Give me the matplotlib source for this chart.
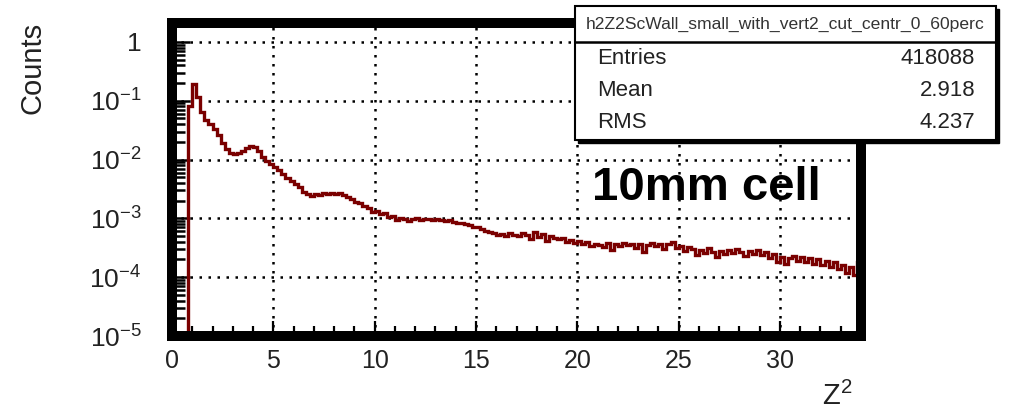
import numpy as np
import matplotlib
matplotlib.use("Agg")
import matplotlib.pyplot as plt
from matplotlib.patches import Rectangle
from matplotlib.lines import Line2D
from matplotlib.ticker import FixedLocator, LogLocator, MultipleLocator, NullFormatter

# ---------------- data ----------------
bin_width = 0.2
x_min, x_max = 0.0, 34.0
counts = [
    0, 0, 0, 0, 0.08, 0.19, 0.115, 0.065, 0.048, 0.040,          # 0.0 - 1.8
    0.033, 0.026, 0.019, 0.015, 0.013, 0.0125, 0.013, 0.014, 0.016, 0.017,  # 2.0 - 3.8
    0.0165, 0.014, 0.011, 0.0095, 0.0085, 0.0075, 0.0066, 0.0057, 0.0049, 0.0043,  # 4.0 - 5.8
    0.0038, 0.0034, 0.0028, 0.0026, 0.0024, 0.0026, 0.0025, 0.0027, 0.0026, 0.0027,  # 6.0 - 7.8
    0.0026, 0.0027, 0.0025, 0.0023, 0.0021, 0.0019, 0.0018, 0.0016, 0.0015, 0.0013,  # 8.0 - 9.8
    0.00135, 0.0012, 0.00125, 0.00105, 0.0011, 0.00095, 0.0010,                      # 10.0 - 11.2
    0.00098, 0.00092, 0.00097, 0.00101, 0.00094, 0.00099, 0.00096, 0.00093, 0.00098, 0.00095,  # 11.4 - 13.2
    0.00091, 0.00094, 0.00088, 0.00085, 0.00083, 0.00079, 0.00076, 0.00072, 0.00070, 0.00066,  # 13.4 - 15.2
    0.00062, 0.00059, 0.00057, 0.00053, 0.00055, 0.00051, 0.00056, 0.00052, 0.00050, 0.00057,  # 15.4 - 17.2
    0.00053, 0.00045, 0.00058, 0.00049, 0.00054, 0.00042, 0.00051, 0.00047, 0.00044, 0.00046,  # 17.4 - 19.2
    0.00040, 0.00043, 0.00038, 0.00041, 0.00036, 0.00039, 0.00034, 0.00037, 0.00035, 0.00033,  # 19.4 - 21.2
    0.00038, 0.00029, 0.00036, 0.00034, 0.00038, 0.00035, 0.00037, 0.00031, 0.00036, 0.00027,  # 21.4 - 23.2
    0.00035, 0.00038, 0.00034, 0.00037, 0.00030, 0.00036, 0.00039, 0.00031, 0.00034, 0.00028,  # 23.4 - 25.2
    0.00033, 0.00030, 0.00024, 0.00029, 0.00026, 0.00031, 0.00027, 0.00022, 0.00028, 0.00025,  # 25.4 - 27.2
    0.00029, 0.00026, 0.00030, 0.00027, 0.00023, 0.00028, 0.00025, 0.00029, 0.00024, 0.00027,  # 27.4 - 29.2
    0.00021, 0.00025, 0.00018, 0.00022, 0.00017, 0.00021, 0.00023, 0.00019, 0.00022, 0.00018,  # 29.4 - 31.2
    0.00021, 0.00017, 0.00020, 0.00016, 0.00019, 0.00015, 0.00018, 0.00014, 0.00016, 0.00012,  # 31.4 - 33.2
    0.00015, 0.00011, 0.00018,                                                                  # 33.4 - 33.8
]
y_min, y_max = 1e-5, 2.1
x_ticks = [0, 5, 10, 15, 20, 25, 30]
x_tick_labels = ["0", "5", "10", "15", "20", "25", "30"]
y_ticks = [1e-5, 1e-4, 1e-3, 1e-2, 1e-1, 1]
y_tick_labels = [r"$10^{-5}$", r"$10^{-4}$", r"$10^{-3}$", r"$10^{-2}$", r"$10^{-1}$", "1"]
hist_name = "h2Z2ScWall_small_with_vert2_cut_centr_0_60perc"
stats_names = ["Entries", "Mean", "RMS"]
stats_values = ["418088", "2.918", "4.237"]
annotation = "10mm cell"
x_label = r"Z$^{2}$"
y_label = "Counts"

# ---------------- style ----------------
plt.rcParams["font.family"] = ["Liberation Sans", "DejaVu Sans"]
plt.rcParams["mathtext.fontset"] = "custom"
plt.rcParams["mathtext.rm"] = "Liberation Sans"
plt.rcParams["mathtext.it"] = "Liberation Sans:italic"
plt.rcParams["mathtext.bf"] = "Liberation Sans:bold"
plt.rcParams["mathtext.default"] = "regular"

W, H = 1013, 411
fig = plt.figure(figsize=(W / 100, H / 100), dpi=100)

def fx(px):
    return px / W

def fy(py):
    return 1 - py / H

ax_l, ax_r, ax_t, ax_b = 172, 861, 23, 336
ax = fig.add_axes([fx(ax_l), fy(ax_b), fx(ax_r - ax_l), (ax_b - ax_t) / H])

edges = np.linspace(x_min, x_max, len(counts) + 1)
vals = np.maximum(np.array(counts, dtype=float), y_min)
ax.stairs(vals, edges, baseline=None, color="#7a0000", linewidth=2.4, zorder=3)

ax.set_yscale("log")
ax.set_xlim(x_min, x_max)
ax.set_ylim(y_min, y_max)

ax.xaxis.set_major_locator(FixedLocator(x_ticks))
ax.set_xticklabels(x_tick_labels)
ax.xaxis.set_minor_locator(MultipleLocator(1))
ax.yaxis.set_major_locator(FixedLocator(y_ticks))
ax.set_yticklabels(y_tick_labels)
ax.yaxis.set_minor_locator(LogLocator(base=10, subs=np.arange(2, 10), numticks=20))
ax.yaxis.set_minor_formatter(NullFormatter())

ax.tick_params(axis="both", which="both", direction="in", top=False, right=False,
               color="black")
ax.tick_params(axis="y", which="major", length=13, width=1.8, labelsize=19, pad=22,
               labelcolor="#222222")
ax.tick_params(axis="y", which="minor", length=9, width=1.8)
ax.tick_params(axis="x", which="major", length=11, width=1.6, labelsize=18, pad=9,
               labelcolor="#222222")
ax.tick_params(axis="x", which="minor", length=7, width=1.6)

ax.grid(True, which="major", color="black", linestyle=(0, (1, 2.6)), linewidth=1.8)
ax.set_axisbelow(False)

for s in ax.spines.values():
    s.set_linewidth(7.2)
    s.set_capstyle("projecting")
    s.set_zorder(4)

# axis titles (ROOT style: at the end of the axes)
fig.text(fx(852), fy(405), x_label, ha="right", va="baseline", fontsize=21,
         color="#222222")
fig.text(fx(33), fy(22), y_label, ha="center", va="top", rotation=90, fontsize=21,
         color="#222222")

# annotation
fig.text(fx(592), fy(200), annotation, ha="left", va="baseline", fontsize=34,
         fontweight="bold", zorder=5)

# stats box
bx0, by0, bx1, by1 = 575, 6, 996, 140
shadow = Rectangle((fx(bx0 + 3), fy(by1 + 3)), fx(bx1 - bx0), (by1 - by0) / H,
                   transform=fig.transFigure, facecolor="black", edgecolor="black",
                   zorder=6)
box = Rectangle((fx(bx0), fy(by1)), fx(bx1 - bx0), (by1 - by0) / H,
                transform=fig.transFigure, facecolor="white", edgecolor="black",
                linewidth=1.5, zorder=7)
fig.add_artist(shadow)
fig.add_artist(box)
fig.add_artist(Line2D([fx(bx0), fx(bx1)], [fy(42), fy(42)], transform=fig.transFigure,
                      color="black", linewidth=1.8, zorder=8))
fig.text(fx((bx0 + bx1) / 2), fy(24), hist_name, ha="center", va="center",
         fontsize=12.6, color="#333333", zorder=9)
row_y = [59, 90, 122]
for name, val, ry in zip(stats_names, stats_values, row_y):
    fig.text(fx(597), fy(ry), name, ha="left", va="center", fontsize=16,
             color="#222222", zorder=9)
    fig.text(fx(975), fy(ry), val, ha="right", va="center", fontsize=16,
             color="#222222", zorder=9)

fig.savefig("out.png", dpi=100, facecolor="white")
